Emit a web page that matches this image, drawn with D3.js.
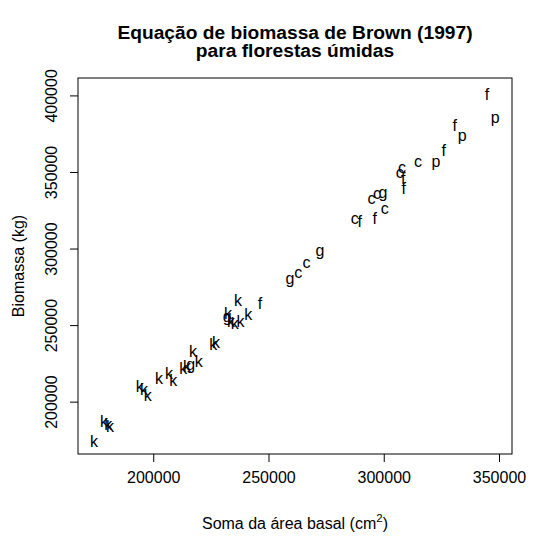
<!DOCTYPE html>
<html>
<head>
<meta charset="utf-8">
<script src="https://cdn.jsdelivr.net/npm/d3@7"></script>
<style>
  body { margin: 0; background: #fff; }
  svg text { font-family: Arial, "Liberation Sans", sans-serif; fill: #000; }
</style>
</head>
<body>
<svg id="chart" width="553" height="552"></svg>
<script>
// group letter of each tree plot
const labels = [
  "k", "k", "k", "k",
  "k", "k", "k", "k", "k", "k",
  "k", "k", "g", "k", "k", "k", "k",
  "k", "g", "k", "k", "k", "k", "k", "f",
  "g", "c", "c", "g",
  "c", "f", "f", "c", "c", "c", "g",
  "c", "c", "f", "f", "c", "p", "f", "f", "p", "f", "p"
];
// soma da area basal (cm2)
const basalArea = [
  174300, 178600, 180500, 181200,
  194200, 196000, 197600, 202500, 206800, 208700,
  213000, 214700, 216200, 217300, 219700, 226000, 227200,
  232400, 232100, 233700, 235400, 237900, 241200, 236800, 246300,
  259300, 262900, 266500, 272300,
  287400, 289600, 296100, 300400, 294700, 297100, 299700,
  307900, 306900, 308400, 308700, 314900, 322600, 326000, 330800, 334000, 344800, 348400
];
// biomassa (kg)
const biomass = [
  173900, 186900, 185400, 183700,
  209800, 208100, 204400, 215300, 218600, 213700,
  221800, 222900, 224400, 232700, 226600, 237700, 238800,
  257800, 255400, 252700, 251200, 252300, 256700, 266000, 264300,
  280400, 284600, 291100, 298500,
  319400, 317600, 319900, 325900, 332500, 335800, 336400,
  353200, 349900, 346000, 339500, 356900, 356700, 363900, 380200, 373700, 400900, 385400
];
const xTicks = [200000, 250000, 300000, 350000];
const yTicks = [200000, 250000, 300000, 350000, 400000];
const xDomain = [167360, 355640];
const yDomain = [165820, 411370];

const titleLines = ["Equação de biomassa de Brown (1997)", "para florestas úmidas"];

const plot = { left: 78, right: 512, top: 78, bottom: 454 };
const svg = d3.select("#chart");

const x = d3.scaleLinear().domain(xDomain).range([plot.left, plot.right]);
const y = d3.scaleLinear().domain(yDomain).range([plot.bottom, plot.top]);

const data = labels.map((l, i) => ({ label: l, x: basalArea[i], y: biomass[i] }));

// box
svg.append("rect")
  .attr("x", plot.left)
  .attr("y", plot.top)
  .attr("width", plot.right - plot.left)
  .attr("height", plot.bottom - plot.top)
  .attr("fill", "none")
  .attr("stroke", "#000")
  .attr("stroke-width", 1);

// x axis (R style: ticks outside, no domain line)
const xAxis = svg.append("g")
  .attr("transform", `translate(0,${plot.bottom})`)
  .call(d3.axisBottom(x).tickValues(xTicks).tickSize(8).tickPadding(10).tickFormat(d3.format("d")));
xAxis.select(".domain").remove();
xAxis.selectAll("text").attr("font-size", 16).attr("font-family", "Arial, 'Liberation Sans', sans-serif");

const yAxis = svg.append("g")
  .attr("transform", `translate(${plot.left},0)`)
  .call(d3.axisLeft(y).tickValues(yTicks).tickSize(8).tickFormat(d3.format("d")));
yAxis.select(".domain").remove();
yAxis.selectAll("text")
  .attr("font-size", 16)
  .attr("font-family", "Arial, 'Liberation Sans', sans-serif")
  .attr("text-anchor", "middle")
  .attr("x", 0)
  .attr("dy", 0)
  .attr("transform", "translate(-21,0) rotate(-90)");
svg.selectAll(".tick line").attr("stroke", "#000");

// points drawn as letters
svg.append("g")
  .selectAll("text")
  .data(data)
  .enter().append("text")
  .attr("x", d => x(d.x))
  .attr("y", d => y(d.y))
  .attr("dy", "0.35em")
  .attr("text-anchor", "middle")
  .attr("font-size", 16)
  .text(d => d.label);

// title
svg.append("g")
  .selectAll("text")
  .data(titleLines)
  .enter().append("text")
  .attr("x", (plot.left + plot.right) / 2)
  .attr("y", (d, i) => 39 + i * 18)
  .attr("text-anchor", "middle")
  .attr("font-size", 19.2)
  .attr("font-weight", "bold")
  .text(d => d);

// axis titles
const xLab = svg.append("text")
  .attr("x", (plot.left + plot.right) / 2)
  .attr("y", 529)
  .attr("text-anchor", "middle")
  .attr("font-size", 16);
xLab.append("tspan").text("Soma da área basal (cm");
xLab.append("tspan").attr("dy", -7).attr("font-size", 11.5).text("2");
xLab.append("tspan").attr("dy", 7).text(")");

svg.append("text")
  .attr("transform", `translate(24,${(plot.top + plot.bottom) / 2}) rotate(-90)`)
  .attr("text-anchor", "middle")
  .attr("font-size", 16)
  .text("Biomassa (kg)");
</script>
</body>
</html>
